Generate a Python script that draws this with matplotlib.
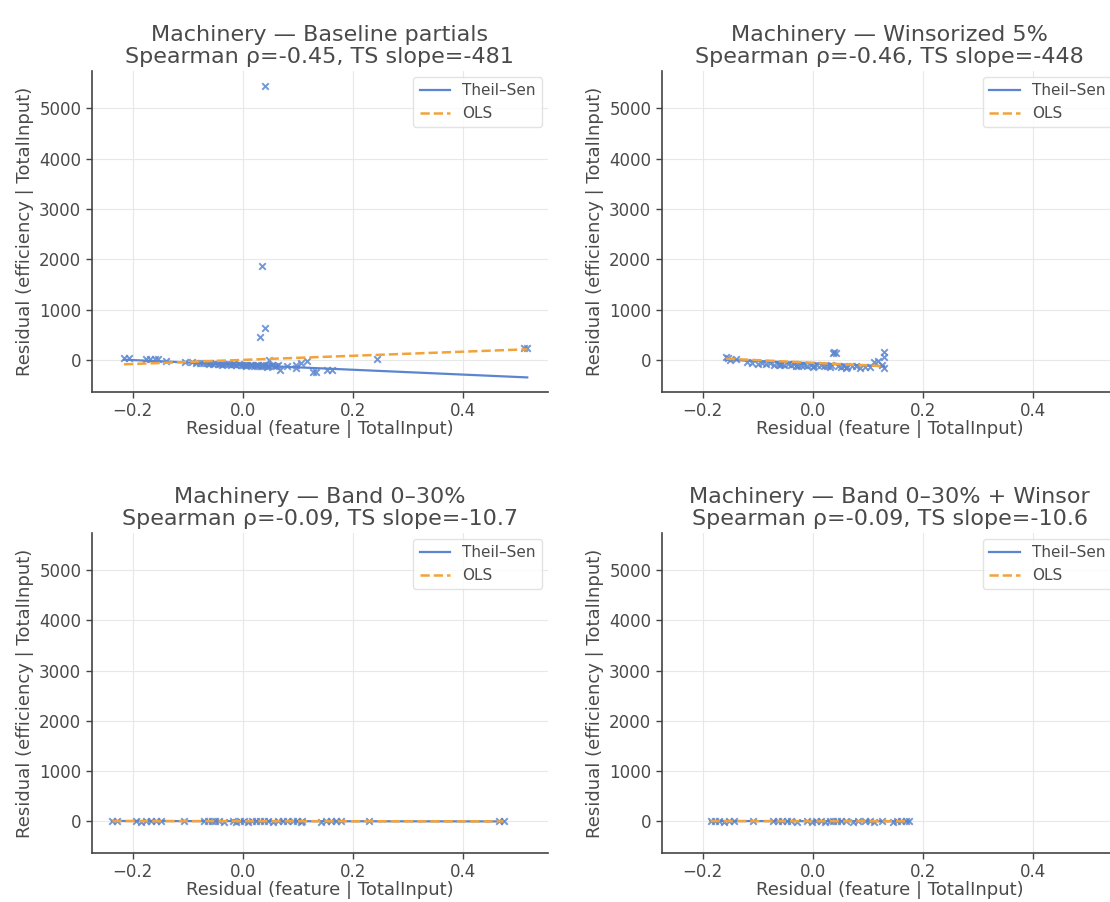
import numpy as np
import matplotlib
matplotlib.use("Agg")
import matplotlib.pyplot as plt

# ---------------- data ----------------
titles = [
    "Machinery \u2014 Baseline partials\nSpearman \u03c1=-0.45, TS slope=-481",
    "Machinery \u2014 Winsorized 5%\nSpearman \u03c1=-0.46, TS slope=-448",
    "Machinery \u2014 Band 0\u201330%\nSpearman \u03c1=-0.09, TS slope=-10.7",
    "Machinery \u2014 Band 0\u201330% + Winsor\nSpearman \u03c1=-0.09, TS slope=-10.6",
]

# Panel 1: baseline partial residuals
base_x = [-0.216, -0.207, -0.176, -0.168, -0.160, -0.155, -0.140, -0.106,
          -0.092, -0.085, -0.078, -0.072, -0.066, -0.060, -0.055, -0.050,
          -0.046, -0.041, -0.036, -0.031, -0.026, -0.021, -0.016, -0.012,
          -0.008, -0.004, 0.000, 0.004, 0.008, 0.012, 0.016, 0.020, 0.024,
          0.028, 0.031, 0.033, 0.034, 0.036, 0.038, 0.040, 0.040, 0.042,
          0.045, 0.048, 0.052, 0.056, 0.060, 0.068, 0.080, 0.096, 0.097,
          0.105, 0.117, 0.127, 0.132, 0.153, 0.162, 0.243, 0.510, 0.516,
          -0.062, -0.038, -0.018, 0.006, 0.026, 0.044, 0.064]
base_y = [45, 45, 25, 20, 30, 15, -10, -40,
          -45, -50, -55, -60, -55, -65, -70, -60,
          -75, -70, -80, -85, -75, -90, -80, -95,
          -85, -100, -90, -95, -105, -90, -100, -110, -95,
          -105, 462, -110, 1866, -100, -120, 630, 5450, -90,
          -115, 10, -105, -125, -110, -195, -120, -100, -165,
          -60, -25, -240, -240, -195, -205, 20, 248, 248,
          -80, -95, -70, -110, -120, -130, -100]

# Panel 2: winsorized 5%
win_x = [-0.158, -0.155, -0.150, -0.140, -0.120, -0.110, -0.100, -0.092,
         -0.085, -0.078, -0.070, -0.064, -0.058, -0.052, -0.046, -0.040,
         -0.034, -0.028, -0.022, -0.016, -0.010, -0.004, 0.002, 0.008,
         0.014, 0.020, 0.026, 0.032, 0.036, 0.039, 0.042, 0.045, 0.050,
         0.056, 0.062, 0.070, 0.078, 0.086, 0.095, 0.104, 0.110, 0.118,
         0.125, 0.129, 0.129, 0.129, -0.060, -0.030, 0.000, 0.030, 0.060]
win_y = [60, 45, 10, 15, -30, -60, -70, -55,
         -80, -60, -90, -75, -70, -95, -80, -100,
         -85, -110, -95, -90, -115, -100, -120, -105,
         -95, -125, -110, -100, 140, 150, 130, -120, -135,
         -115, -140, -120, -110, -150, -130, -140, -40, -20,
         -90, 160, 70, -160, -100, -120, -130, -140, -150]

# Panel 3: band 0-30%
band_x = [-0.237, -0.228, -0.195, -0.185, -0.176, -0.167, -0.158, -0.149,
          -0.107, -0.071, -0.064, -0.057, -0.050, -0.043, -0.035, -0.019,
          -0.012, -0.005, 0.002, 0.009, 0.016, 0.023, 0.030, 0.038, 0.045,
          0.054, 0.063, 0.072, 0.080, 0.090, 0.098, 0.105, 0.108, 0.141,
          0.150, 0.160, 0.168, 0.177, 0.228, 0.464, 0.473]
band_y = [-5, 0, 5, -8, 3, -4, 6, 0,
          8, 12, 5, -6, 10, 0, -8, 5,
          -10, 8, 0, -12, 6, -5, 10, -3, 4,
          -8, 3, -6, 8, -4, 0, -10, 6, -15,
          -5, 8, -3, 0, 10, 4, -2]

# Panel 4: band 0-30% + winsor
bw_x = [-0.186, -0.178, -0.170, -0.162, -0.153, -0.144, -0.108, -0.072,
        -0.064, -0.056, -0.048, -0.040, -0.029, -0.010, -0.002, 0.006,
        0.014, 0.022, 0.030, 0.037, 0.044, 0.050, 0.060, 0.072, 0.082,
        0.094, 0.104, 0.110, 0.126, 0.146, 0.153, 0.159, 0.168, 0.175]
bw_y = [-5, 0, 5, -8, 3, -4, 6, 10,
        5, -6, 8, 0, -8, 5, -10, 8,
        0, -12, 6, -5, 10, -3, 4, -8,
        3, -6, 8, -14, 0, -10, 6, -4, 3, 5]

panel_x = [base_x, win_x, band_x, bw_x]
panel_y = [base_y, win_y, band_y, bw_y]

# fitted lines (slope, intercept)
ts_slope = [-481, -448, -10.7, -10.6]
ts_intercept = [-97, -65, 0, 0]
ols_slope = [408, -520, -8, -9]
ols_intercept = [3, -55, 0, 0]

xlabel = "Residual (feature | TotalInput)"
ylabel = "Residual (efficiency | TotalInput)"

# ---------------- style ----------------
BLUE = "#5B86CF"
ORANGE = "#F2A33A"
TXT = "#4a4a4a"
plt.rcParams.update({
    "font.family": "DejaVu Sans",
    "text.color": TXT,
    "axes.labelcolor": TXT,
    "xtick.color": "#444444",
    "ytick.color": "#444444",
    "xtick.labelcolor": TXT,
    "ytick.labelcolor": TXT,
})

fig, axes = plt.subplots(2, 2, sharex=True, sharey=True, figsize=(11.1, 9.02), dpi=100)
positions = [
    [0.0826, 0.5654, 0.4111, 0.3559],
    [0.5961, 0.5654, 0.4111, 0.3559],
    [0.0826, 0.0543, 0.4111, 0.3548],
    [0.5961, 0.0543, 0.4111, 0.3548],
]

for i, ax in enumerate(axes.flat):
    ax.set_position(positions[i])
    xs = np.array(panel_x[i], dtype=float)
    ys = np.array(panel_y[i], dtype=float)
    ax.scatter(xs, ys, marker="x", s=22, color=BLUE, linewidths=1.4, alpha=0.85, zorder=3)
    xl = np.array([xs.min(), xs.max()])
    ax.plot(xl, ts_slope[i] * xl + ts_intercept[i], color=BLUE, lw=1.6, label="Theil\u2013Sen", zorder=4)
    ax.plot(xl, ols_slope[i] * xl + ols_intercept[i], color=ORANGE, lw=1.8, ls="--", label="OLS", zorder=4)
    ax.set_title(titles[i], fontsize=16, color=TXT, linespacing=1.1, pad=6)
    ax.set_xlabel(xlabel, fontsize=13, labelpad=0)
    ax.set_ylabel(ylabel, fontsize=13, labelpad=4)
    ax.tick_params(labelbottom=True, labelleft=True, labelsize=12, length=4, width=1)
    ax.grid(True, color="#e8e8e8", lw=0.8)
    ax.set_axisbelow(True)
    for s in ["top", "right"]:
        ax.spines[s].set_visible(False)
    for s in ["left", "bottom"]:
        ax.spines[s].set_color("#444444")
        ax.spines[s].set_linewidth(1.2)
    leg = ax.legend(loc="upper right", fontsize=11, frameon=True, handlelength=2.0,
                    borderaxespad=0.4)
    leg.get_frame().set_edgecolor("#dddddd")
    for t in leg.get_texts():
        t.set_color(TXT)

ax0 = axes.flat[0]
ax0.set_xticks([-0.2, 0.0, 0.2, 0.4])
ax0.set_yticks([0, 1000, 2000, 3000, 4000, 5000])

fig.savefig("out.png", dpi=100)
